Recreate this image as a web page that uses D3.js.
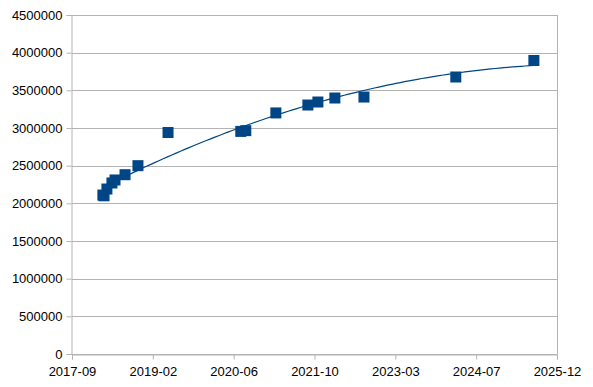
<!DOCTYPE html>
<html>
  <head>
    <meta charset="utf-8">
    <style>
    body { margin: 0; background: #fff; }
    #chart-area text { font-family: "Liberation Sans", Arial, sans-serif; font-size: 13px; fill: #000; }
    </style>
  </head>
  <body>
    <div id="chart-area"></div>

    <script src="https://d3js.org/d3.v7.min.js"></script>
    <script>
      // Data
      const dates = [
        "2018-03-30", "2018-04-06", "2018-04-24", "2018-05-25", "2018-06-13",
        "2018-08-14", "2018-11-02", "2019-05-07", "2020-07-30", "2020-08-30",
        "2021-03-04", "2021-09-18", "2021-11-19", "2022-03-04", "2022-08-31",
        "2024-03-21", "2025-07-17"
      ];
      const values = [
        2110000, 2100000, 2190000, 2270000, 2310000,
        2380000, 2500000, 2940000, 2955000, 2965000,
        3200000, 3305000, 3345000, 3398000, 3411000,
        3677000, 3896000
      ];
      const yTicks = [0, 500000, 1000000, 1500000, 2000000, 2500000, 3000000, 3500000, 4000000, 4500000];
      const xStart = "2017-09-20";
      const xStepDays = 500;
      const xSteps = 6;

      const width = 593;
      const height = 387;
      const margin = { top: 15, right: 36, bottom: 33, left: 72 };
      const color = "#004586";
      const gridColor = "#b3b3b3";

      const parse = d3.timeParse("%Y-%m-%d");
      const fmt = d3.timeFormat("%Y-%m");
      const day = 864e5;

      const t0 = parse(xStart);
      const xTickDates = d3.range(xSteps + 1).map(i => new Date(+t0 + i * xStepDays * day));

      const data = dates.map((d, i) => ({ date: parse(d), value: values[i] }));

      const svg = d3.select("#chart-area")
        .append("svg")
          .attr("width", width)
          .attr("height", height);

      const x = d3.scaleTime()
        .domain([xTickDates[0], xTickDates[xSteps]])
        .range([margin.left, width - margin.right]);

      const y = d3.scaleLinear()
        .domain([0, 4500000])
        .range([height - margin.bottom, margin.top]);

      // horizontal gridlines
      svg.append("g")
        .selectAll("line")
        .data(yTicks)
        .enter().append("line")
          .attr("x1", margin.left)
          .attr("x2", width - margin.right)
          .attr("y1", d => Math.round(y(d)) + 0.5)
          .attr("y2", d => Math.round(y(d)) + 0.5)
          .attr("stroke", gridColor);

      // right border
      svg.append("line")
        .attr("x1", Math.round(x(xTickDates[xSteps])) + 0.5)
        .attr("x2", Math.round(x(xTickDates[xSteps])) + 0.5)
        .attr("y1", margin.top)
        .attr("y2", height - margin.bottom)
        .attr("stroke", gridColor);

      // axes
      const yAxis = svg.append("g")
        .attr("transform", `translate(${margin.left - 0.5},0)`)
        .call(d3.axisLeft(y).tickValues(yTicks).tickFormat(d3.format("d")).tickSize(5).tickPadding(4));

      const xAxis = svg.append("g")
        .attr("transform", `translate(0,${Math.round(height - margin.bottom) + 0.5})`)
        .call(d3.axisBottom(x).tickValues(xTickDates).tickFormat(fmt).tickSize(5).tickPadding(7));

      [yAxis, xAxis].forEach(g => {
        g.select(".domain").attr("stroke", gridColor);
        g.selectAll(".tick line").attr("stroke", gridColor);
        g.selectAll("text").attr("font-family", null).attr("font-size", null);
        g.attr("font-family", null).attr("font-size", null);
      });

      // quadratic least squares trend line (time in days)
      const ts = data.map(d => (d.date - t0) / day);
      const n = ts.length;
      const S = k => d3.sum(ts, t => Math.pow(t, k));
      const Sy = k => d3.sum(data, (d, i) => d.value * Math.pow(ts[i], k));
      const A = [[n, S(1), S(2)], [S(1), S(2), S(3)], [S(2), S(3), S(4)]];
      const B = [Sy(0), Sy(1), Sy(2)];
      function solve(A, B) {
        const m = A.map((r, i) => r.concat([B[i]]));
        for (let c = 0; c < 3; c++) {
          for (let r = c + 1; r < 3; r++) {
            const f = m[r][c] / m[c][c];
            for (let k = c; k < 4; k++) m[r][k] -= f * m[c][k];
          }
        }
        const out = [0, 0, 0];
        for (let r = 2; r >= 0; r--) {
          let s = m[r][3];
          for (let k = r + 1; k < 3; k++) s -= m[r][k] * out[k];
          out[r] = s / m[r][r];
        }
        return out;
      }
      const coef = solve(A, B);
      const tMin = d3.min(ts), tMax = d3.max(ts);
      const trend = d3.range(0, 101).map(i => {
        const t = tMin + (tMax - tMin) * i / 100;
        return { date: new Date(+t0 + t * day), value: coef[0] + coef[1] * t + coef[2] * t * t };
      });

      svg.append("path")
        .datum(trend)
        .attr("fill", "none")
        .attr("stroke", color)
        .attr("stroke-width", 1.2)
        .attr("d", d3.line().x(d => x(d.date)).y(d => y(d.value)));

      // markers
      const size = 11;
      svg.append("g")
        .selectAll("rect")
        .data(data)
        .enter().append("rect")
          .attr("x", d => x(d.date) - size / 2)
          .attr("y", d => y(d.value) - size / 2)
          .attr("width", size)
          .attr("height", size)
          .attr("fill", color);
    </script>
  </body>
</html>
